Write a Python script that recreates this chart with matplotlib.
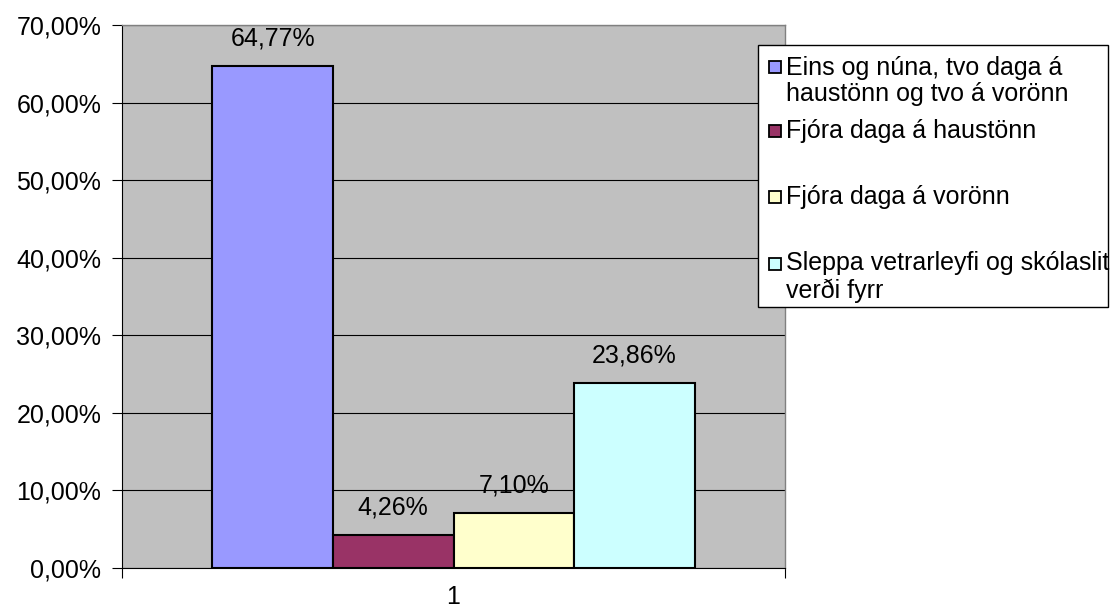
import matplotlib
matplotlib.use("Agg")
import matplotlib.pyplot as plt
from matplotlib.patches import Rectangle
from matplotlib.ticker import FuncFormatter, FixedLocator

categories = ["1"]
series_labels = [
    "Eins og núna, tvo daga á\nhaustönn og tvo á vorönn",
    "Fjóra daga á haustönn",
    "Fjóra daga á vorönn",
    "Sleppa vetrarleyfi og skólaslit\nverði fyrr",
]
values = [64.77, 4.26, 7.10, 23.86]
colors = ["#9999FF", "#993366", "#FFFFCC", "#CCFFFF"]
yticks = [0, 10, 20, 30, 40, 50, 60, 70]

plt.rcParams['font.family'] = ['Liberation Sans', 'DejaVu Sans']

W, H = 1110, 608
fig = plt.figure(figsize=(W / 100, H / 100), dpi=100)
fig.patch.set_facecolor("white")

left, right, top, bottom = 122, 785, 25, 568
ax = fig.add_axes([left / W, 1 - bottom / H, (right - left) / W, (bottom - top) / H])
ax.set_facecolor("#C0C0C0")

n = len(values)
w = 1 / 5.5
for i, (v, c) in enumerate(zip(values, colors)):
    x = (i - (n - 1) / 2) * w
    ax.bar(x, v, width=w, color=c, edgecolor="black", linewidth=1.5, zorder=3)
    ax.text(x, v + 2.0, f"{v:.2f}%".replace(".", ","), ha="center", va="bottom",
            fontsize=18, zorder=4)

ax.set_xlim(-0.5, 0.5)
ax.set_ylim(0, 70)
ax.set_yticks(yticks)
ax.yaxis.set_major_formatter(FuncFormatter(lambda v, p: f"{v:.2f}%".replace(".", ",")))
ax.grid(axis="y", color="black", linewidth=0.8, zorder=1)
ax.set_axisbelow(True)

ax.xaxis.set_major_locator(FixedLocator([-0.5, 0.5]))
ax.xaxis.set_major_formatter(FuncFormatter(lambda v, p: ""))
ax.xaxis.set_minor_locator(FixedLocator([0]))
ax.set_xticklabels(categories, minor=True)
ax.tick_params(axis="x", which="major", length=7, width=0.8, direction="out")
ax.tick_params(axis="x", which="minor", length=0, pad=12, labelsize=18)
ax.tick_params(axis="y", length=7, width=0.8, direction="out", pad=8, labelsize=18)

for s in ["left", "bottom"]:
    ax.spines[s].set_color("black")
    ax.spines[s].set_linewidth(0.8)
for s in ["top", "right"]:
    ax.spines[s].set_color("#808080")
    ax.spines[s].set_linewidth(1.0)

# Legend (drawn manually to match layout)
lx0, ly0, lx1, ly1 = 758, 45, 1108, 307
fig.patches.append(Rectangle((lx0 / W, 1 - ly1 / H), (lx1 - lx0) / W, (ly1 - ly0) / H,
                             transform=fig.transFigure, facecolor="white",
                             edgecolor="black", linewidth=1.0, zorder=10))
square_centers = [67, 131, 197, 264]
text_centers = [81, 131, 197, 277]
sq = 12
for lab, c, sy, ty in zip(series_labels, colors, square_centers, text_centers):
    fig.patches.append(Rectangle((769 / W, 1 - (sy + sq / 2) / H), sq / W, sq / H,
                                 transform=fig.transFigure, facecolor=c,
                                 edgecolor="black", linewidth=1.3, zorder=11))
    fig.text(786 / W, 1 - ty / H, lab, ha="left", va="center", fontsize=18,
             linespacing=1.15, zorder=12)

fig.savefig("out.png", dpi=100)
